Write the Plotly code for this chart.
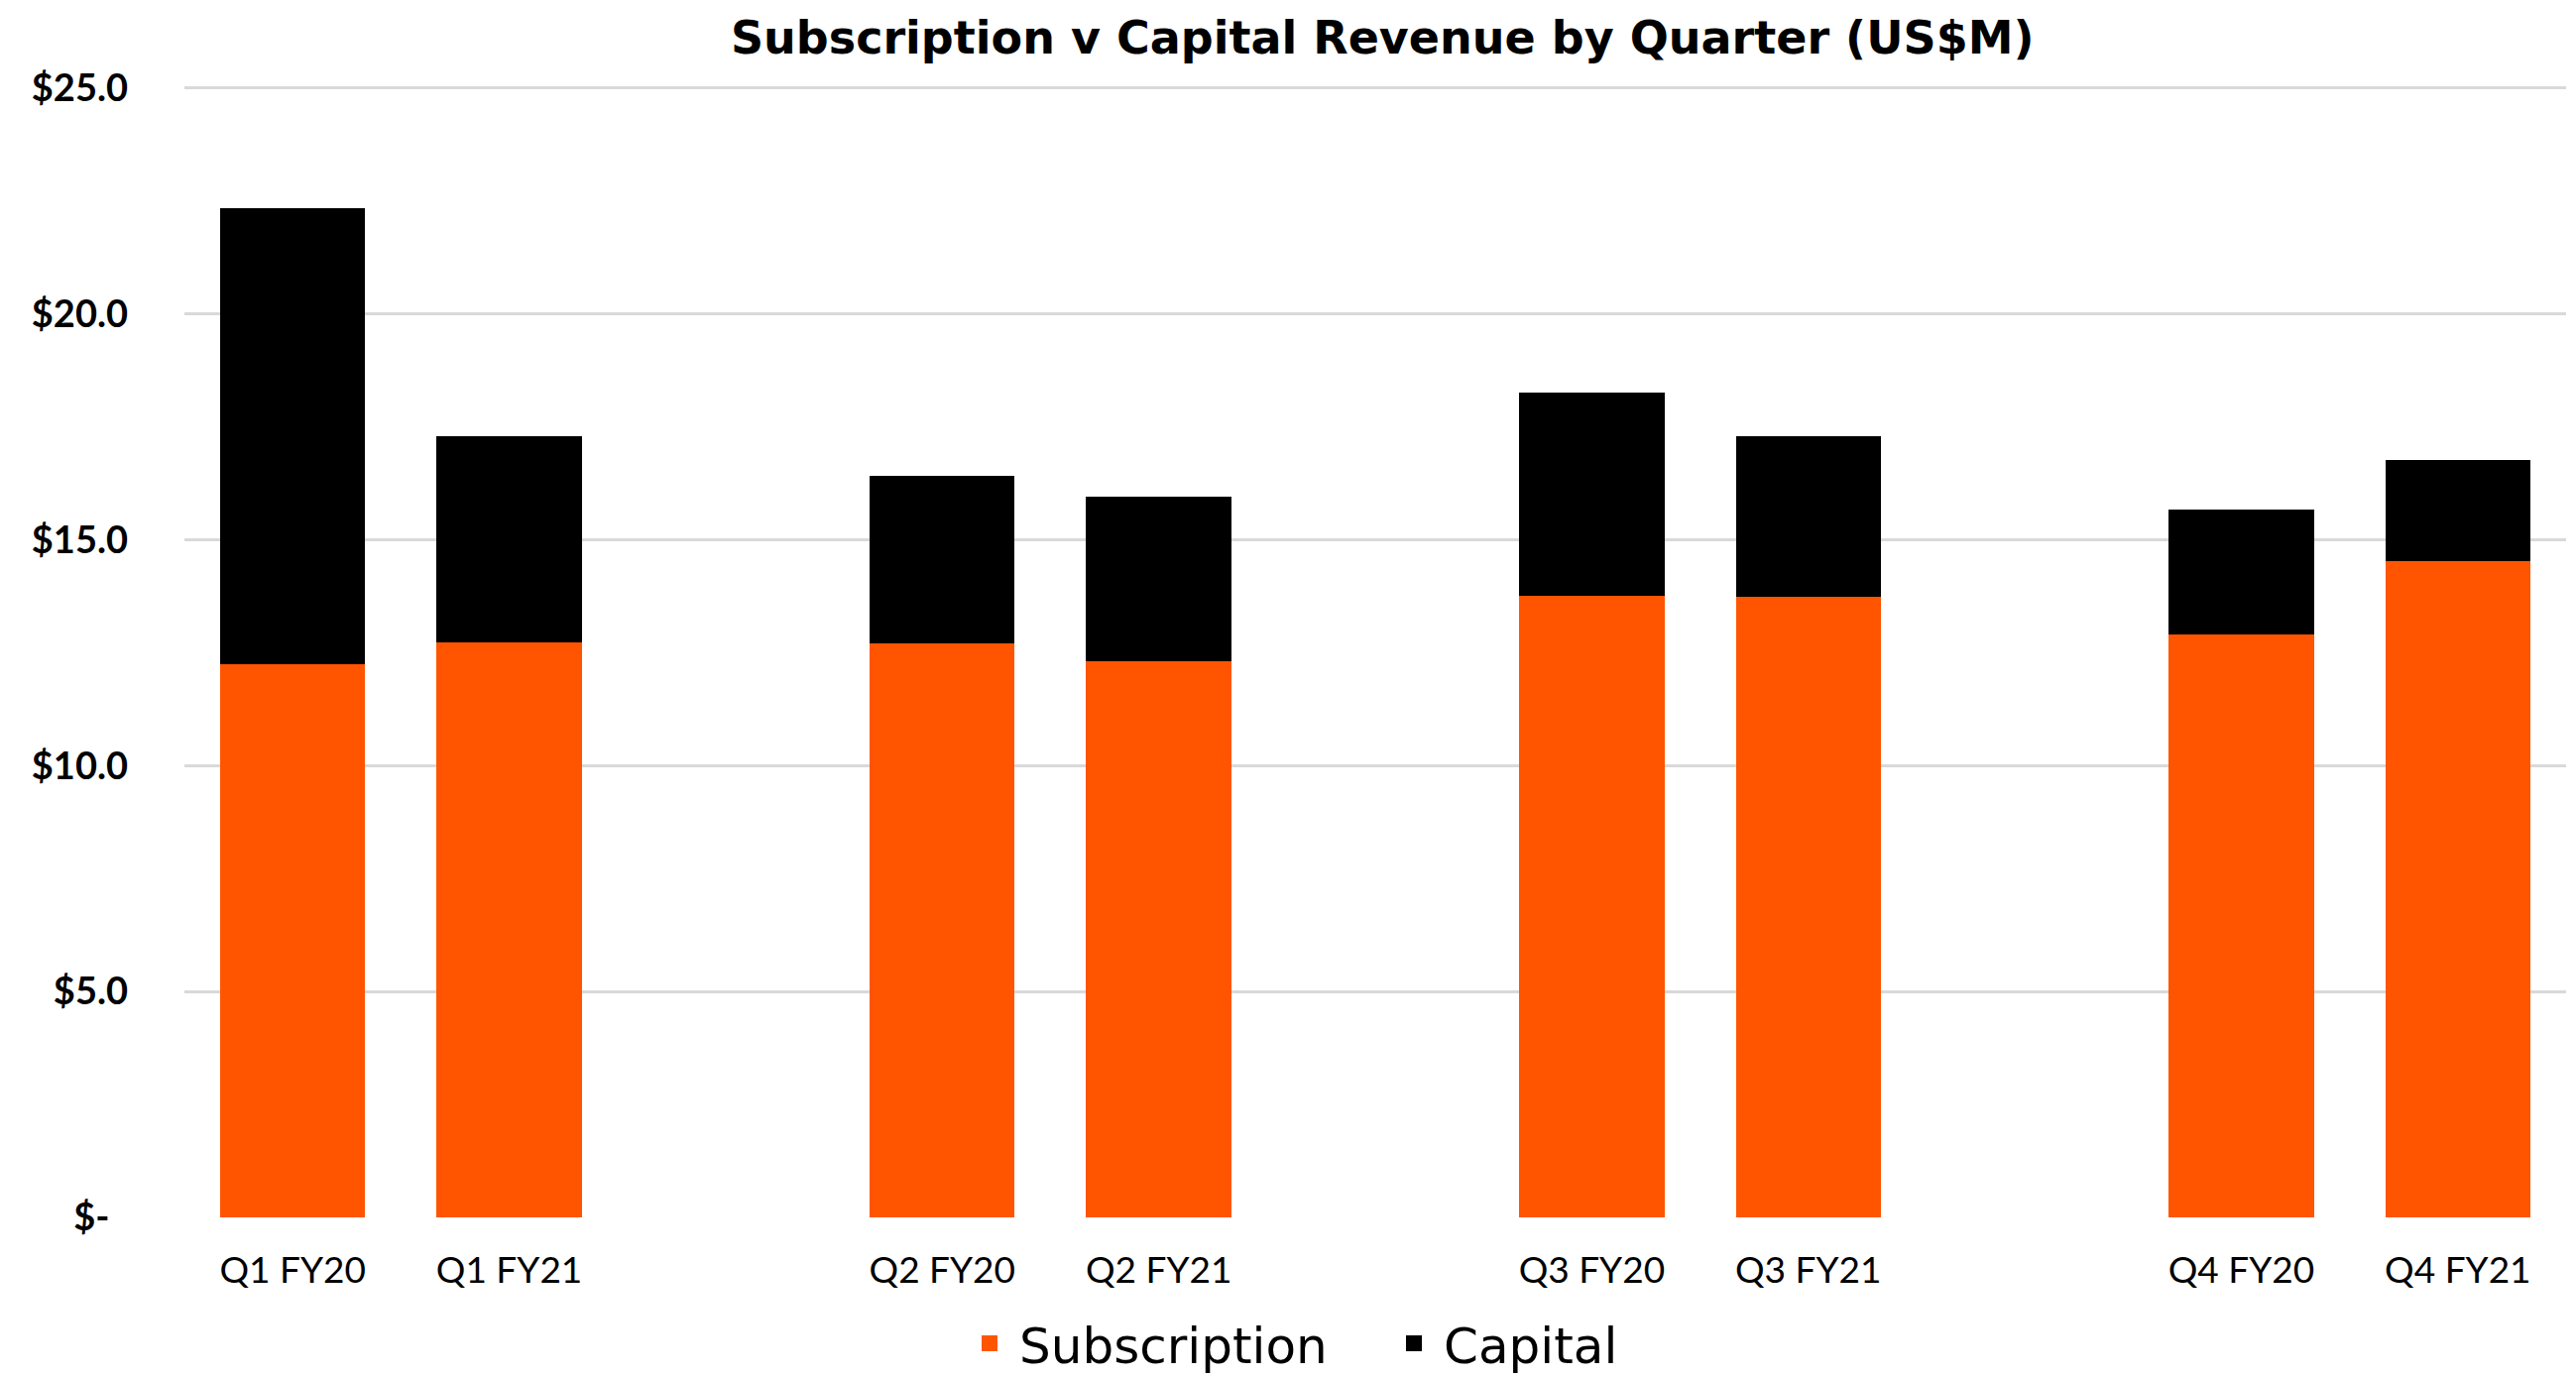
import plotly.graph_objects as go

# Subscription v Capital revenue by quarter (US$M)
quarters = ["Q1 FY20", "Q1 FY21", " ", "Q2 FY20", "Q2 FY21", "  ",
            "Q3 FY20", "Q3 FY21", "   ", "Q4 FY20", "Q4 FY21"]
subscription = [12.24, 12.72, None, 12.70, 12.31, None, 13.76, 13.73, None, 12.91, 14.52]
capital = [10.10, 4.57, None, 3.71, 3.64, None, 4.50, 3.57, None, 2.76, 2.24]

y_ticks = [0, 5, 10, 15, 20, 25]
y_labels = ["$-  ", "$5.0", "$10.0", "$15.0", "$20.0", "$25.0"]

ORANGE = "#FF5500"
BLACK = "#000000"

# page body adds an 8px offset, so the figure is a bit smaller than the window
W, H = 2590, 1381
M_L, M_R, M_T, M_B = 178, 10, 76, 161

fig = go.Figure()
fig.add_trace(go.Bar(x=quarters, y=subscription, name="Subscription",
                     marker=dict(color=ORANGE, line=dict(width=0)),
                     legendgroup="sub", showlegend=False))
fig.add_trace(go.Bar(x=quarters, y=capital, name="Capital",
                     marker=dict(color=BLACK, line=dict(width=0)),
                     legendgroup="cap", showlegend=False))

# legend entries with bigger square swatches
for nm, col, grp in [("Subscription", ORANGE, "sub"), ("Capital", BLACK, "cap")]:
    fig.add_trace(go.Scatter(x=[None], y=[None], mode="markers", name=nm,
                             legendgroup=grp,
                             marker=dict(symbol="square", size=30, color=col)))

fig.update_layout(
    width=W, height=H,
    barmode="stack",
    bargap=0.33,
    plot_bgcolor="white",
    paper_bgcolor="white",
    font=dict(family="Lato", color="black"),
    margin=dict(l=M_L, r=M_R, t=M_T, b=M_B, autoexpand=False),
    title=dict(
        text="<b>Subscription v Capital Revenue by Quarter (US$M)</b>",
        x=0.503, xref="paper", xanchor="center",
        y=1 - 30 / H, yref="container", yanchor="middle",
        font=dict(size=46, family="DejaVu Sans", color="black"),
    ),
    xaxis=dict(
        type="category",
        categoryorder="array",
        categoryarray=quarters,
        showgrid=False,
        showline=False,
        zeroline=False,
        ticks="",
        tickfont=dict(size=37, family="Lato"),
        ticklabelstandoff=28,
        automargin=False,
    ),
    yaxis=dict(
        range=[0, 25.1],
        tickvals=y_ticks,
        ticktext=y_labels,
        showgrid=True,
        gridcolor="#D9D9D9",
        gridwidth=3,
        zeroline=False,
        showline=False,
        ticks="",
        tickfont=dict(size=38, family="Lato", weight="bold"),
        ticklabelstandoff=56,
        automargin=False,
    ),
    legend=dict(
        orientation="h",
        xref="container", x=960 / W, xanchor="left",
        yref="container", y=1 - 1347 / H, yanchor="middle",
        font=dict(size=50, family="DejaVu Sans"),
        itemsizing="trace",
        itemwidth=50,
        traceorder="normal",
        entrywidth=363,
    ),
    showlegend=True,
)

fig.write_html("out.html")
